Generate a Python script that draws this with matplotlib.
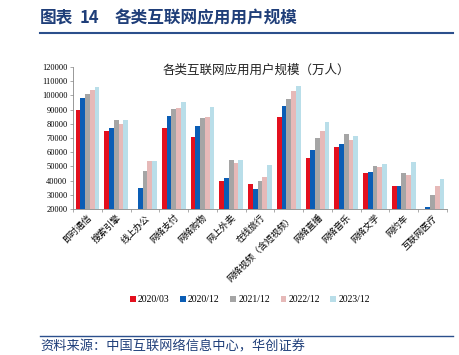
import matplotlib
matplotlib.use("Agg")
import matplotlib.pyplot as plt
import numpy as np

CJK = ["Noto Sans CJK SC", "DejaVu Sans"]
SERIF = ["Liberation Serif", "Noto Sans CJK SC"]

categories = ["即时通信", "搜索引擎", "线上办公", "网络支付", "网络购物", "网上外卖", "在线旅行",
              "网络视频（含短视频）", "网络直播", "网络音乐", "网络文学", "网约车", "互联网医疗"]
series = ["2020/03", "2020/12", "2021/12", "2022/12", "2023/12"]
v2003 = [89613, 75015, np.nan, 76798, 71027, 39780, 37296, 85044, 55982, 63513, 45538, 36230, np.nan]
v2012 = [98111, 76977, 34560, 85434, 78241, 41883, 34244, 92677, 61685, 65825, 46013, 36528, 21480]
v2112 = [100666, 82884, 46884, 90363, 84210, 54416, 39710, 97471, 70337, 72946, 50159, 45261, 29788]
v2212 = [103807, 80166, 53962, 91144, 84529, 52116, 42272, 103057, 75065, 68420, 49233, 43708, 36254]
v2312 = [105963, 82670, 53748, 95386, 91496, 54454, 50901, 106671, 81566, 71464, 52017, 52765, 41393]
values = [v2003, v2012, v2112, v2212, v2312]
colors = ["#E3101E", "#0A5DB5", "#A5A5A5", "#E6B9B8", "#B9DEE9"]

fig = plt.figure(figsize=(4.59, 3.55), dpi=100)
ax = fig.add_axes([73 / 459, 1 - 209 / 355, 374 / 459, 142 / 355])

x = np.arange(len(categories))
w = 0.165
for i, (vals, c, lab) in enumerate(zip(values, colors, series)):
    ax.bar(x + (i - 2) * w, vals, width=w, color=c, label=lab)

ax.set_ylim(20000, 120000)
ax.set_xlim(-0.5, len(categories) - 0.5)
ax.set_yticks(np.arange(20000, 120001, 10000))
ax.set_yticklabels([str(v) for v in range(20000, 120001, 10000)], family=SERIF, fontsize=6)
ax.set_xticks(x)
ax.set_xticklabels(categories, rotation=45, ha="right", rotation_mode="anchor",
                   family=CJK, fontsize=6.5)
ax.tick_params(axis="x", length=0, pad=3)
ax.set_xticks(np.arange(-0.5, len(categories)), minor=True)
ax.tick_params(axis="x", which="minor", length=2, width=0.5, color="#888888")
ax.tick_params(axis="y", length=2, width=0.5, color="#888888", pad=2)
for s in ("top", "right"):
    ax.spines[s].set_visible(False)
for s in ("left", "bottom"):
    ax.spines[s].set_color("#888888")
    ax.spines[s].set_linewidth(0.6)

fig.text(256 / 459, 1 - 70 / 355, "各类互联网应用用户规模（万人）", ha="center", va="center",
         family=CJK, fontsize=9, color="#222222")

ax.legend(loc="center", bbox_to_anchor=(250 / 459, 1 - 300 / 355), bbox_transform=fig.transFigure,
          ncol=5, frameon=False, prop={"family": SERIF, "size": 7}, handlelength=0.6, handleheight=0.6,
          handletextpad=0.2, columnspacing=1.1)

# header and footer
hdr = dict(ha="left", va="center", family=CJK, fontsize=12, fontweight="bold", color="#1F3E79")
fig.text(40 / 459, 1 - 18 / 355, "图表", **hdr)
fig.text(80 / 459, 1 - 18 / 355, "14", **hdr)
fig.text(115 / 459, 1 - 18 / 355, "各类互联网应用用户规模", **hdr)
fig.add_artist(plt.Line2D([40 / 459, 453 / 459], [1 - 33 / 355] * 2, color="#2B4F8C", lw=1.5))
fig.add_artist(plt.Line2D([40 / 459, 453 / 459], [1 - 336 / 355] * 2, color="#2B4F8C", lw=1.0))
fig.text(40 / 459, 1 - 347 / 355, "资料来源：中国互联网络信息中心，华创证券", ha="left", va="center",
         family=CJK, fontsize=9.5, color="#1F3E79", style="italic")

fig.savefig("out.png", dpi=100)
